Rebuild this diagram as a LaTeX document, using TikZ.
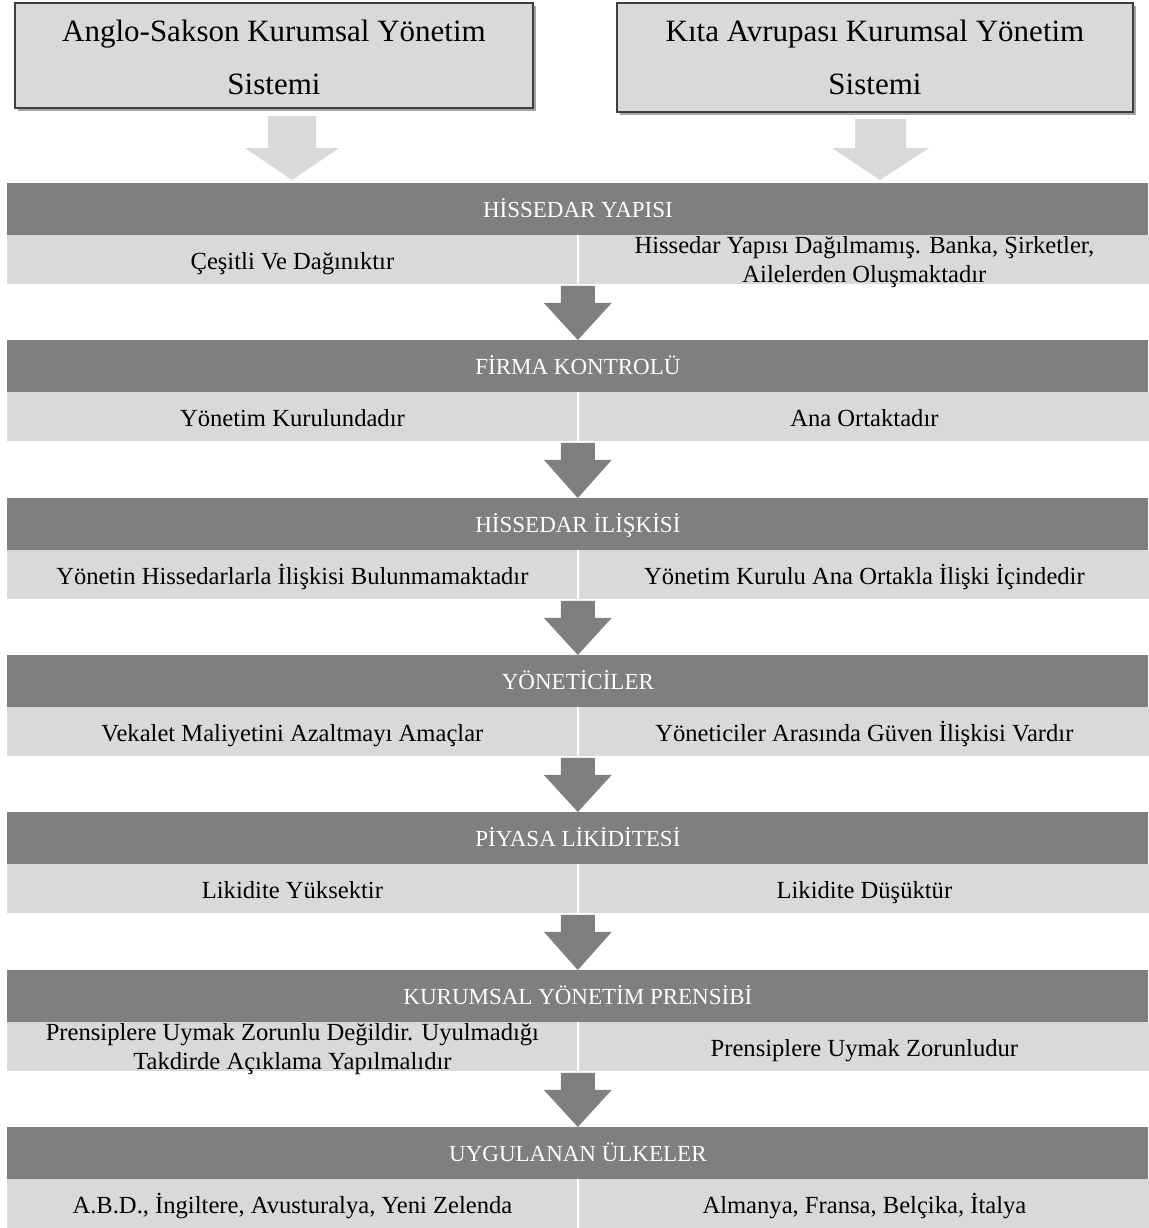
\documentclass[tikz,border=0pt]{standalone}
\usepackage{fontspec}
\setmainfont{Liberation Serif}
\usetikzlibrary{calc,shadows}
\definecolor{bandgray}{HTML}{7F7F7F}
\definecolor{cellgray}{HTML}{D9D9D9}
\definecolor{framegray}{HTML}{3F3F3F}

\begin{document}
\begin{tikzpicture}[x=0.5pt,y=-0.5pt]
\tikzstyle{system}=[rectangle,draw=framegray,line width=1pt,fill=cellgray,align=center,inner sep=0pt,text depth=0pt,
  font=\fontsize{15.5}{26.5}\selectfont,drop shadow={shadow xshift=1.5pt,shadow yshift=-1.5pt,fill=black!70,opacity=0.5}]
\tikzstyle{band}=[rectangle,fill=bandgray,text=white,minimum width=570.5pt,minimum height=26pt,inner sep=0pt,
  text height=8pt,text depth=0pt,font=\fontsize{11.5}{13}\selectfont]
\tikzstyle{cell2}=[rectangle,fill=cellgray,minimum width=285pt,minimum height=24.5pt,inner sep=0pt,align=center,
  text height=23.5pt,text depth=0.5pt,font=\fontsize{12.3}{14.5}\selectfont]
\tikzstyle{cell}=[cell2,text height=11pt,text depth=1.5pt]

\useasboundingbox (0,0) rectangle (1148,1228);

% the two systems
\node[system,minimum width=259pt,minimum height=52.5pt,text height=39.2pt] (anglo) at (274,55.5) {Anglo-Sakson Kurumsal Yönetim\\Sistemi};
\node[system,minimum width=258pt,minimum height=54.5pt,text height=37.2pt] (kita) at (875,57.5) {Kıta Avrupası Kurumsal Yönetim\\Sistemi};

% headers and rows
\node[band,anchor=north west] (h1) at (7,183) {HİSSEDAR YAPISI};
\node[cell,anchor=north west] (l1) at (7,235) {Çeşitli Ve Dağınıktır};
\node[cell2,anchor=north west] (r1) at (579,235) {Hissedar Yapısı Dağılmamış. Banka, Şirketler,\\Ailelerden Oluşmaktadır};

\node[band,anchor=north west] (h2) at (7,340) {FİRMA KONTROLÜ};
\node[cell,anchor=north west] (l2) at (7,392) {Yönetim Kurulundadır};
\node[cell,anchor=north west] (r2) at (579,392) {Ana Ortaktadır};

\node[band,anchor=north west] (h3) at (7,498) {HİSSEDAR İLİŞKİSİ};
\node[cell,anchor=north west] (l3) at (7,550) {Yönetin Hissedarlarla İlişkisi Bulunmamaktadır};
\node[cell,anchor=north west] (r3) at (579,550) {Yönetim Kurulu Ana Ortakla İlişki İçindedir};

\node[band,anchor=north west] (h4) at (7,655) {YÖNETİCİLER};
\node[cell,anchor=north west] (l4) at (7,707) {Vekalet Maliyetini Azaltmayı Amaçlar};
\node[cell,anchor=north west] (r4) at (579,707) {Yöneticiler Arasında Güven İlişkisi Vardır};

\node[band,anchor=north west] (h5) at (7,812) {PİYASA LİKİDİTESİ};
\node[cell,anchor=north west] (l5) at (7,864) {Likidite Yüksektir};
\node[cell,anchor=north west] (r5) at (579,864) {Likidite Düşüktür};

\node[band,anchor=north west] (h6) at (7,970) {KURUMSAL YÖNETİM PRENSİBİ};
\node[cell2,anchor=north west] (l6) at (7,1022) {Prensiplere Uymak Zorunlu Değildir. Uyulmadığı\\Takdirde Açıklama Yapılmalıdır};
\node[cell,anchor=north west] (r6) at (579,1022) {Prensiplere Uymak Zorunludur};

\node[band,anchor=north west] (h7) at (7,1127) {UYGULANAN ÜLKELER};
\node[cell,anchor=north west] (l7) at (7,1179) {A.B.D., İngiltere, Avusturalya, Yeni Zelenda};
\node[cell,anchor=north west] (r7) at (579,1179) {Almanya, Fransa, Belçika, İtalya};

% light arrows under the systems
\path (anglo.south) ++(18,0) coordinate (atip);
\path (kita.south) ++(5,0) coordinate (ktip);
\fill[cellgray] ($(anglo.south)+(-6,7)$) -- ($(anglo.south)+(42,7)$) -- ($(anglo.south)+(42,39)$) --
      ($(anglo.south)+(65,39)$) -- ($(atip |- h1.north)+(0,-3)$) -- ($(anglo.south)+(-29,39)$) --
      ($(anglo.south)+(-6,39)$) -- cycle;
\fill[cellgray] ($(kita.south)+(-20,6)$) -- ($(kita.south)+(31,6)$) -- ($(kita.south)+(31,35)$) --
      ($(kita.south)+(54,35)$) -- ($(ktip |- h1.north)+(0,-3)$) -- ($(kita.south)+(-43,35)$) --
      ($(kita.south)+(-20,35)$) -- cycle;

% dark arrows between the rows
\foreach \a/\b in {l1/h2,l2/h3,l3/h4,l4/h5,l5/h6,l6/h7}
  \fill[bandgray] ($(\a.south east)+(-17,1)$) -- ($(\a.south east)+(17,1)$) -- ($(\a.south east)+(17,18)$) --
        ($(\a.south east)+(34,18)$) -- (\a.south east |- \b.north) -- ($(\a.south east)+(-34,18)$) --
        ($(\a.south east)+(-17,18)$) -- cycle;
\end{tikzpicture}
\end{document}
